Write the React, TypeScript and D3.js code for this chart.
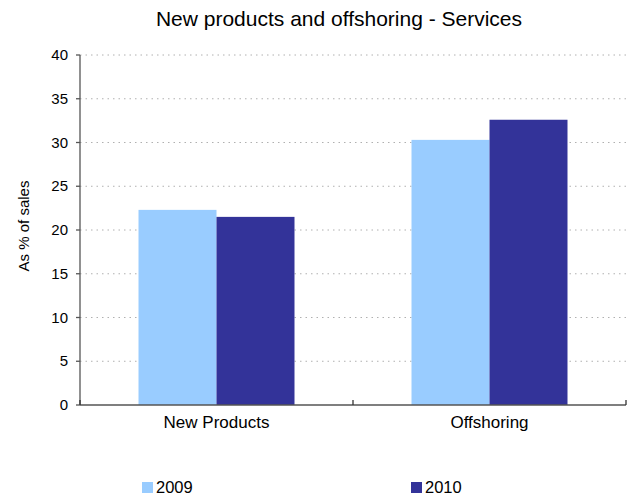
import React from "react";
import * as d3 from "d3";

const categories = ["New Products", "Offshoring"];
const seriesNames = ["2009", "2010"];
const values2009 = [22.3, 30.3];
const values2010 = [21.5, 32.6];
const colors = ["#99ccff", "#333399"];
const yTicks = [0, 5, 10, 15, 20, 25, 30, 35, 40];
const title = "New products and offshoring - Services";
const yLabel = "As % of sales";

export default function App() {
  const W = 628, H = 495;
  const left = 80, right = 626, top = 55, bottom = 405;
  const font = "Liberation Sans, Arial, sans-serif";
  const x0 = d3.scaleBand().domain(categories).range([left, right]).padding(0);
  const bw = x0.bandwidth();
  const groupW = bw * 0.5714;
  const x1 = d3.scaleBand().domain(seriesNames).range([(bw - groupW) / 2, (bw + groupW) / 2]).padding(0);
  const y = d3.scaleLinear().domain([0, 40]).range([bottom, top]);
  const series = [values2009, values2010];
  const boundaries = [left, ...categories.map((c) => (x0(c) as number) + bw)];

  return (
    <svg width={W} height={H} style={{ position: "absolute", left: 0, top: 0 }} fontFamily={font}>
      <rect width={W} height={H} fill="#fff" />
      <text x={339} y={26} textAnchor="middle" fontSize={21} fill="#000">{title}</text>
      {yTicks.filter((t) => t > 0).map((t) => (
        <line key={"g" + t} x1={left} x2={right} y1={y(t)} y2={y(t)} stroke="#b0b0b0" strokeWidth={1} strokeDasharray="1.5,4" />
      ))}
      {categories.map((c, i) =>
        seriesNames.map((s, j) => (
          <rect key={c + s} x={(x0(c) as number) + (x1(s) as number)} y={y(series[j][i])} width={x1.bandwidth()} height={bottom - y(series[j][i])} fill={colors[j]} />
        ))
      )}
      <line x1={left} x2={left} y1={top} y2={bottom} stroke="#555" strokeWidth={1.3} />
      <line x1={left} x2={right} y1={bottom} y2={bottom} stroke="#555" strokeWidth={1.3} />
      {yTicks.map((t) => (
        <g key={"t" + t}>
          <line x1={left - 4} x2={left} y1={y(t)} y2={y(t)} stroke="#555" strokeWidth={1.3} />
          <text x={68} y={y(t) + 5} textAnchor="end" fontSize={15} fill="#000">{t}</text>
        </g>
      ))}
      {boundaries.map((b, i) => (
        <line key={"b" + i} x1={b} x2={b} y1={bottom} y2={bottom - 5} stroke="#333" strokeWidth={1.3} />
      ))}
      {categories.map((c) => (
        <text key={"c" + c} x={(x0(c) as number) + bw / 2} y={428} textAnchor="middle" fontSize={17} fill="#000">{c}</text>
      ))}
      <text transform={`translate(29,226) rotate(-90)`} textAnchor="middle" fontSize={15} fill="#000">{yLabel}</text>
      {seriesNames.map((s, j) => {
        const lx = j === 0 ? 142 : 411;
        return (
          <g key={"l" + s}>
            <rect x={lx} y={482} width={11} height={11} fill={colors[j]} />
            <text x={lx + 14} y={493} fontSize={16.5} fill="#000">{s}</text>
          </g>
        );
      })}
    </svg>
  );
}
